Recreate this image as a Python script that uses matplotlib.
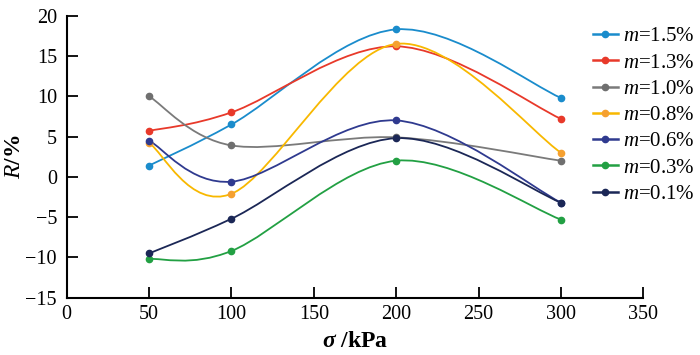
import matplotlib
matplotlib.use("Agg")
import matplotlib.pyplot as plt
from matplotlib.path import Path
from matplotlib.patches import PathPatch
from matplotlib.lines import Line2D
import numpy as np

plt.rcParams['font.family'] = ['Liberation Serif', 'DejaVu Serif']
plt.rcParams['mathtext.fontset'] = 'custom'
plt.rcParams['mathtext.rm'] = 'Liberation Serif'
plt.rcParams['mathtext.it'] = 'Liberation Serif:italic'
plt.rcParams['mathtext.bf'] = 'Liberation Serif:bold:italic'

sigma = [50, 100, 200, 300]
labels = ["1.5%", "1.3%", "1.0%", "0.8%", "0.6%", "0.3%", "0.1%"]
r_15 = [1.4, 6.5, 18.3, 9.8]
r_13 = [5.7, 8.0, 16.2, 7.2]
r_10 = [10.0, 3.9, 4.9, 2.0]
r_08 = [4.2, -2.1, 16.5, 3.0]
r_06 = [4.5, -0.6, 7.0, -3.2]
r_03 = [-10.2, -9.2, 2.0, -5.3]
r_01 = [-9.5, -5.2, 4.8, -3.2]
series = [r_15, r_13, r_10, r_08, r_06, r_03, r_01]
line_colors = ["#1a8ccc", "#e8392a", "#7a7a7a", "#f8b800", "#2f3a8f", "#22a043", "#1b2756"]
marker_colors = ["#1a8ccc", "#e8392a", "#6f6f6f", "#f5a030", "#2f3a8f", "#22a043", "#1b2756"]

fig = plt.figure(figsize=(7.0, 3.55), dpi=100)
ax = fig.add_axes([0.0953, 0.1614, 0.8237, 0.7944])


def smooth_path(x, y):
    x = np.asarray(x, float)
    y = np.asarray(y, float)
    xp = np.concatenate([[x[0]], x, [x[-1]]])
    yp = np.concatenate([[y[0]], y, [y[-1]]])
    verts = [(x[0], y[0])]
    codes = [Path.MOVETO]
    for i in range(1, len(xp) - 2):
        c1 = (xp[i] + (xp[i + 1] - xp[i - 1]) / 6, yp[i] + (yp[i + 1] - yp[i - 1]) / 6)
        c2 = (xp[i + 1] - (xp[i + 2] - xp[i]) / 6, yp[i + 1] - (yp[i + 2] - yp[i]) / 6)
        verts += [c1, c2, (xp[i + 1], yp[i + 1])]
        codes += [Path.CURVE4] * 3
    return Path(verts, codes)


handles = []
for vals, lc, mc, lab in zip(series, line_colors, marker_colors, labels):
    ax.add_patch(PathPatch(smooth_path(sigma, vals), facecolor='none', edgecolor=lc, lw=1.3))
    ax.plot(sigma, vals, linestyle='none', marker='o', ms=4.5, color=mc)
    handles.append(Line2D([], [], color=lc, lw=1.8, marker='o', ms=4.5,
                          markerfacecolor=mc, markeredgecolor=mc, label="$m$=" + lab))

ax.set_xlim(0, 350)
ax.set_ylim(-15, 20)
ax.set_xticks(np.arange(0, 351, 50))
ax.set_yticks(np.arange(-15, 21, 5))
ax.set_yticklabels([str(v).replace('-', '\u2212') for v in range(-15, 21, 5)])
for s in ['top', 'right']:
    ax.spines[s].set_visible(False)
for s in ['left', 'bottom']:
    ax.spines[s].set_linewidth(1.5)
ax.tick_params(direction='in', length=8, width=1.3, labelsize=14.5)
ax.tick_params(axis='y', pad=7)
ax.tick_params(axis='x', pad=5)
ax.set_xlabel(r"$\mathbf{\sigma}$ /kPa", fontsize=17, fontweight='bold', labelpad=5)
ax.set_ylabel(r"$R$/%", fontsize=17, fontweight='bold', labelpad=0)

fig.legend(handles=handles, loc='upper left', bbox_to_anchor=(0.835, 0.948),
           frameon=False, fontsize=15, handlelength=1.2, handletextpad=0.24,
           labelspacing=0.32, borderaxespad=0)

fig.savefig("out.png", dpi=100)
